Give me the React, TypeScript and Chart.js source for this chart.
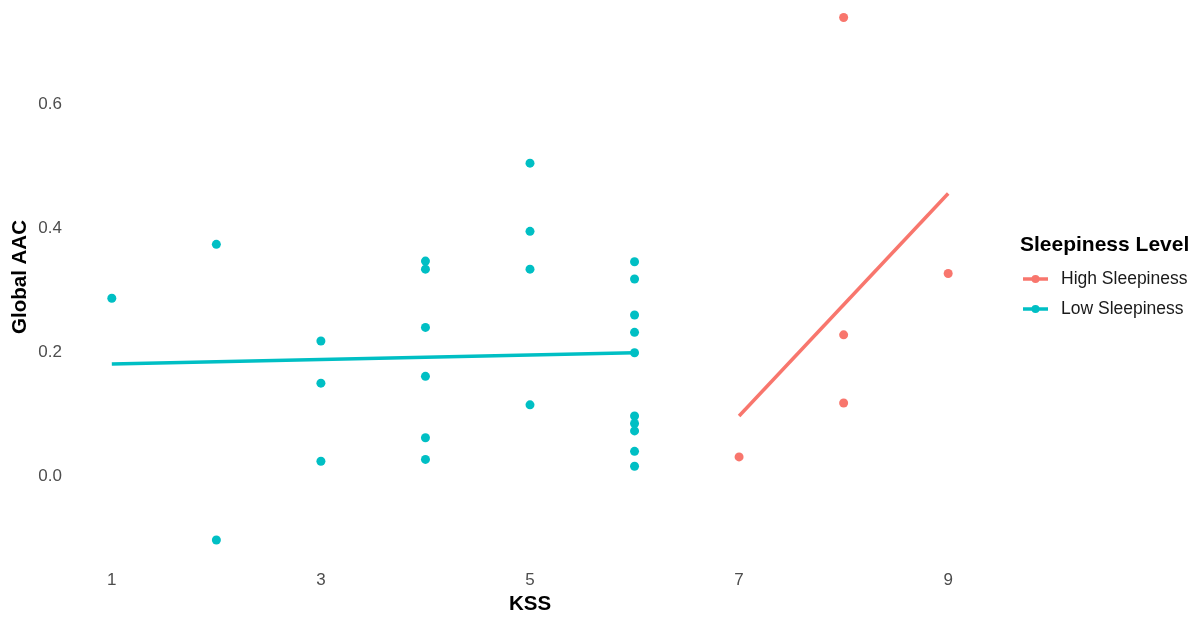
import React, { useEffect, useRef } from "react";
import { Chart, registerables } from "chart.js";

Chart.register(...registerables);

// ---- data ----
const lowKss = [1, 2, 2, 3, 3, 3, 4, 4, 4, 4, 4, 4, 5, 5, 5, 5, 6, 6, 6, 6, 6, 6, 6, 6, 6, 6];
const lowAac = [0.287, 0.374, -0.103, 0.218, 0.15, 0.024, 0.347, 0.334, 0.24, 0.161, 0.062, 0.027, 0.505, 0.395, 0.334, 0.115, 0.346, 0.318, 0.26, 0.232, 0.199, 0.097, 0.085, 0.073, 0.04, 0.016];
const highKss = [7, 8, 8, 8, 9];
const highAac = [0.031, 0.74, 0.228, 0.118, 0.327];
const lowFitKss = [1, 6];
const lowFitAac = [0.181, 0.199];
const highFitKss = [7, 9];
const highFitAac = [0.097, 0.456];
const xTicks = [1, 3, 5, 7, 9];
const yTicks = [0, 0.2, 0.4, 0.6];
const seriesNames = ["High Sleepiness", "Low Sleepiness"];

const LOW = "#00BFC4";
const HIGH = "#F8766D";
const FONT = "'Liberation Sans', Arial, sans-serif";

const toPts = (xs: number[], ys: number[]) => xs.map((x, i) => ({ x, y: ys[i] }));

const customPlugin = {
  id: "custom",
  afterDraw(chart: any) {
    const ctx = chart.ctx;
    const area = chart.chartArea;
    ctx.save();
    // y title
    ctx.translate(20, 277);
    ctx.rotate(-Math.PI / 2);
    ctx.font = `bold 20.5px ${FONT}`;
    ctx.fillStyle = "#000";
    ctx.textAlign = "center";
    ctx.textBaseline = "middle";
    ctx.fillText("Global AAC", 0, 0);
    ctx.restore();

    // legend
    ctx.save();
    const lx = area.right + 30;
    ctx.font = `bold 21px ${FONT}`;
    ctx.fillStyle = "#000";
    ctx.textAlign = "left";
    ctx.textBaseline = "middle";
    ctx.fillText("Sleepiness Level", lx, 245);
    const items = [
      { name: seriesNames[0], color: HIGH, y: 279 },
      { name: seriesNames[1], color: LOW, y: 309 },
    ];
    items.forEach((it) => {
      ctx.strokeStyle = it.color;
      ctx.lineWidth = 3.5;
      ctx.beginPath();
      ctx.moveTo(lx + 3, it.y);
      ctx.lineTo(lx + 28, it.y);
      ctx.stroke();
      ctx.fillStyle = it.color;
      ctx.beginPath();
      ctx.arc(lx + 15.5, it.y, 4, 0, Math.PI * 2);
      ctx.fill();
      ctx.font = `17.5px ${FONT}`;
      ctx.fillStyle = "#1a1a1a";
      ctx.fillText(it.name, lx + 41, it.y);
    });
    ctx.restore();
  },
};

export default function App() {
  const ref = useRef<HTMLCanvasElement>(null);
  useEffect(() => {
    if (!ref.current) return;
    const chart = new Chart(ref.current, {
      type: "scatter",
      data: {
        datasets: [
          {
            label: "Low Sleepiness fit",
            data: toPts(lowFitKss, lowFitAac),
            showLine: true,
            borderColor: LOW,
            borderWidth: 3.5,
            pointRadius: 0,
            clip: false,
          },
          {
            label: "High Sleepiness fit",
            data: toPts(highFitKss, highFitAac),
            showLine: true,
            borderColor: HIGH,
            borderWidth: 3.5,
            pointRadius: 0,
            clip: false,
          },
          {
            label: seriesNames[1],
            data: toPts(lowKss, lowAac),
            backgroundColor: LOW,
            borderWidth: 0,
            pointRadius: 4.5,
            clip: false,
          },
          {
            label: seriesNames[0],
            data: toPts(highKss, highAac),
            backgroundColor: HIGH,
            borderWidth: 0,
            pointRadius: 4.5,
            clip: false,
          },
        ],
      },
      options: {
        animation: false,
        responsive: false,
        maintainAspectRatio: false,
        layout: { padding: { left: 0, right: 207, top: 0, bottom: 0 } },
        plugins: { legend: { display: false }, tooltip: { enabled: false } },
        scales: {
          x: {
            type: "linear",
            min: 0.6,
            max: 9.4,
            grid: { display: false, drawTicks: false },
            border: { display: false },
            afterBuildTicks: (s: any) => {
              s.ticks = xTicks.map((v) => ({ value: v }));
            },
            afterFit: (s: any) => {
              s.height = 51;
              s.paddingLeft = 0;
              s.paddingRight = 0;
            },
            ticks: {
              color: "#4D4D4D",
              font: { size: 17, family: FONT },
              padding: 4,
              callback: (v: any) => String(v),
            },
            title: {
              display: true,
              text: "KSS",
              color: "#000",
              font: { size: 20.5, weight: "bold", family: FONT },
              padding: { top: 0, bottom: 0 },
            },
          },
          y: {
            type: "linear",
            min: -0.145,
            max: 0.761,
            grid: { display: false, drawTicks: false },
            border: { display: false },
            afterBuildTicks: (s: any) => {
              s.ticks = yTicks.map((v) => ({ value: v }));
            },
            afterFit: (s: any) => {
              s.width = 70;
              s.paddingTop = 0;
              s.paddingBottom = 0;
            },
            ticks: {
              color: "#4D4D4D",
              font: { size: 17, family: FONT },
              padding: 8,
              callback: (v: any) => Number(v).toFixed(1),
            },
          },
        },
      },
      plugins: [customPlugin],
    });
    return () => chart.destroy();
  }, []);
  return (
    <div style={{ position: "fixed", left: 0, top: 0, width: 1197, height: 617, background: "#fff" }}>
      <canvas ref={ref} width={1197} height={617} style={{ display: "block" }} />
    </div>
  );
}
